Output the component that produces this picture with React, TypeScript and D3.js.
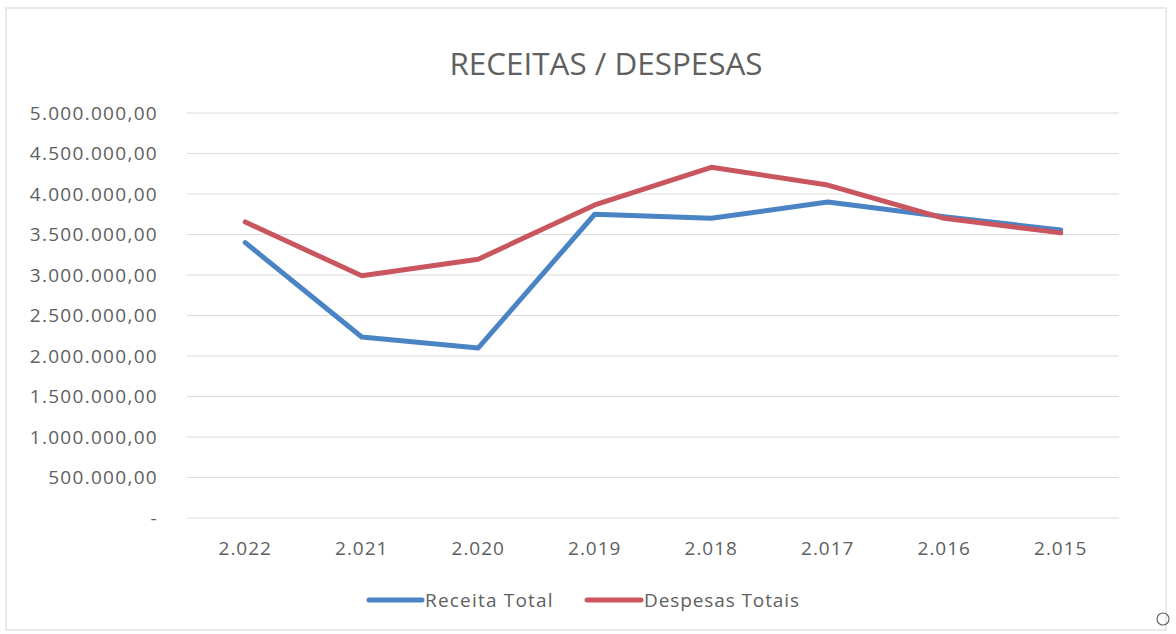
import React from "react";
import * as d3 from "d3";

const categories = ["2.022", "2.021", "2.020", "2.019", "2.018", "2.017", "2.016", "2.015"];
const receitaTotal = [3400000, 2235000, 2100000, 3750000, 3700000, 3900000, 3720000, 3555000];
const despesasTotais = [3655000, 2990000, 3195000, 3865000, 4330000, 4110000, 3700000, 3520000];
const yTicks = [0, 500000, 1000000, 1500000, 2000000, 2500000, 3000000, 3500000, 4000000, 4500000, 5000000];

const W = 1176;
const H = 634;
const FONT = "Open Sans, Noto Sans, sans-serif";
const TEXT = "#606060";

function fmt(v: number): string {
  if (v === 0) return "-";
  const s = Math.round(v).toString().replace(/\B(?=(\d{3})+(?!\d))/g, ".");
  return s + ",00";
}

export default function App() {
  const x = d3.scaleBand<string>().domain(categories).range([187, 1119]);
  const y = d3.scaleLinear().domain([0, 5000000]).range([518, 113]);
  const cx = (c: string) => (x(c) as number) + x.bandwidth() / 2;
  const line = d3
    .line<number>()
    .x((_, i) => cx(categories[i]))
    .y((d) => y(d));

  const series = [
    { name: "Receita Total", values: receitaTotal, color: "#4a84c4" },
    { name: "Despesas Totais", values: despesasTotais, color: "#c9565e" },
  ];

  return (
    <svg width={W} height={H} style={{ position: "absolute", left: 0, top: 0, background: "#fff" }}>
      <rect x={6} y={8} width={1160} height={622} fill="#fff" stroke="#d6d6d6" strokeWidth={1} />
      <text x={606} y={75} textAnchor="middle" fontFamily={FONT} fontSize={31} fontWeight={400} fill={TEXT} textLength={313} lengthAdjust="spacingAndGlyphs">
        RECEITAS / DESPESAS
      </text>
      {yTicks.map((t) => (
        <g key={t}>
          <line x1={187} x2={1119} y1={y(t)} y2={y(t)} stroke="#dcdcdc" strokeWidth={1} />
          <text x={158} y={y(t)} dy="0.36em" textAnchor="end" fontFamily={FONT} fontSize={19} letterSpacing={1.3} fill={TEXT}>
            {fmt(t)}
          </text>
        </g>
      ))}
      {categories.map((c) => (
        <text key={c} x={cx(c)} y={548} dy="0.36em" textAnchor="middle" fontFamily={FONT} fontSize={19} letterSpacing={1} fill={TEXT}>
          {c}
        </text>
      ))}
      {series.map((s) => (
        <path key={s.name} d={line(s.values) || ""} fill="none" stroke={s.color} strokeWidth={5} strokeLinejoin="round" strokeLinecap="round" />
      ))}
      <g>
        <line x1={369} x2={422} y1={600} y2={600} stroke={series[0].color} strokeWidth={5} strokeLinecap="round" />
        <text x={425} y={600} dy="0.36em" fontFamily={FONT} fontSize={19} letterSpacing={1.2} fill={TEXT}>
          {series[0].name}
        </text>
        <line x1={587} x2={641} y1={600} y2={600} stroke={series[1].color} strokeWidth={5} strokeLinecap="round" />
        <text x={644} y={600} dy="0.36em" fontFamily={FONT} fontSize={19} letterSpacing={0.9} fill={TEXT}>
          {series[1].name}
        </text>
      </g>
      <circle cx={1163} cy={619} r={6} fill="none" stroke="#666" strokeWidth={1.2} />
    </svg>
  );
}
